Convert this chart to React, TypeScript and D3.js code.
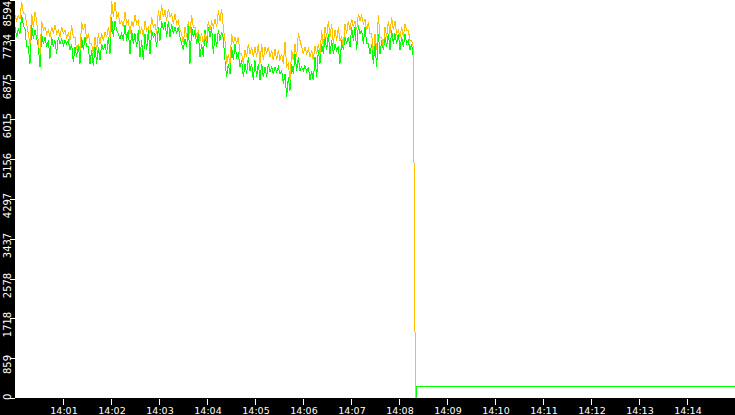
import React, { useEffect, useRef } from 'react';
import * as d3 from 'd3';

// time window shown on the x axis
const START = new Date(2024, 0, 1, 14, 0, 0);
const END = new Date(2024, 0, 1, 14, 15, 0);
// samples are evenly spaced until the drop just after 14:08:20
const SAMPLE_SEC = 500 / 240;

const Y_MAX = 8594;
const Y_TICK_LABELS = ['0', '859', '1718', '2578', '3437', '4297', '5156', '6015', '6875', '7734', '8594'];

const ORANGE_VALUES = [
  8270, 8160, 8270, 8200, 8560, 8310, 8310, 8090, 7880, 7660, 8310, 8020, 8340, 8160, 7660, 7440, 8160, 7950, 8020, 7880,
  7950, 7800, 8020, 7880, 8060, 7880, 7950, 7800, 8020, 7880, 7950, 7800, 7880, 7730, 8060, 7800, 7800, 7520, 7660, 7520,
  8130, 7950, 8090, 7730, 7880, 7660, 7660, 7440, 7800, 7520, 7880, 7660, 7880, 7730, 7910, 7800, 8020, 7800, 8590, 8230,
  8560, 8230, 8310, 8090, 8160, 8020, 8340, 8090, 8160, 7880, 8160, 8020, 8270, 8090, 8160, 7880, 8020, 7800, 8160, 7950,
  8020, 7880, 8230, 8020, 8090, 7880, 8380, 8160, 8490, 8230, 8380, 8160, 8410, 8230, 8310, 8090, 8310, 8090, 8160, 7950,
  7880, 7660, 8020, 7800, 8160, 7880, 8270, 8020, 8020, 7800, 7950, 7730, 7880, 7660, 7880, 7730, 8160, 7950, 8130, 8020,
  8200, 8020, 8380, 8160, 8410, 8020, 7730, 7230, 7440, 7230, 7880, 7660, 7800, 7660, 7800, 7440, 7440, 7230, 7520, 7370,
  7660, 7440, 7590, 7370, 7590, 7370, 7660, 7230, 7660, 7300, 7590, 7440, 7590, 7370, 7520, 7300, 7550, 7300, 7520, 7300,
  7440, 7230, 7700, 7160, 7230, 6870, 7520, 7300, 7660, 7370, 7880, 7730, 7590, 7440, 7590, 7440, 7550, 7370, 7520, 7300,
  7620, 7440, 7660, 7440, 7950, 7590, 8020, 7800, 8160, 7800, 8090, 7660, 7950, 7730, 8020, 7730, 7800, 7590, 8090, 7880,
  8160, 7950, 8200, 8020, 8160, 7950, 8310, 8160, 8270, 8090, 8200, 7950, 8130, 7880, 7880, 7440, 7880, 7520, 8270, 7800,
  7800, 7590, 8020, 7800, 8160, 7880, 8230, 7950, 8160, 7880, 7950, 7800, 8020, 7800, 8090, 7950, 7950, 7730, 7730, 7590,
];

const GREEN_VALUES = [
  8020, 7800, 7980, 7880, 8270, 8060, 7980, 7590, 7590, 7230, 8060, 7770, 7950, 7770, 7590, 7160, 7880, 7660, 7800, 7590,
  7730, 7340, 7800, 7590, 7730, 7440, 7800, 7660, 7770, 7620, 7730, 7660, 7730, 7520, 7660, 7260, 7590, 7370, 7660, 7230,
  7800, 7520, 7800, 7590, 7590, 7230, 7520, 7190, 7590, 7230, 7590, 7300, 7660, 7520, 7660, 7440, 7800, 7440, 8230, 7800,
  8160, 7950, 7880, 7770, 7880, 7730, 8060, 7730, 7950, 7440, 7950, 7660, 7880, 7590, 7950, 7370, 7730, 7300, 7880, 7520,
  7950, 7440, 7950, 7800, 7880, 7590, 8020, 7730, 8160, 7950, 8130, 7800, 8160, 7800, 8090, 7880, 8020, 7880, 8020, 7800,
  7660, 7520, 7770, 7590, 8090, 7230, 8020, 7800, 7950, 7660, 7880, 7370, 7660, 7370, 7950, 7590, 8020, 7800, 8020, 7440,
  7880, 7590, 7950, 7730, 7910, 7770, 7300, 6940, 7230, 7010, 7590, 7300, 7660, 7370, 7440, 7160, 7300, 6940, 7230, 7010,
  7370, 7080, 7230, 6870, 7300, 6940, 7230, 6870, 7230, 6940, 7160, 6940, 7230, 7050, 7160, 7010, 7160, 7050, 7160, 7010,
  7080, 6800, 7010, 6510, 6940, 6650, 7230, 7010, 7440, 7080, 7370, 7080, 7160, 7080, 7190, 7050, 7160, 6870, 7080, 6870,
  7370, 6940, 7520, 7230, 7660, 7440, 7800, 7520, 7880, 7440, 7730, 7440, 7660, 7520, 7590, 7230, 7730, 7520, 7800, 7660,
  7800, 7590, 8020, 7730, 8020, 7520, 8060, 7880, 7950, 7660, 8020, 7660, 7660, 7440, 7660, 7230, 7660, 7160, 7880, 7440,
  7730, 7520, 7800, 7590, 7880, 7520, 7950, 7660, 7880, 7660, 7880, 7520, 7800, 7590, 7880, 7660, 7730, 7520, 7660, 7370,
];

// around and after the drop (seconds after 14:00); NaN = gap in the line
const ORANGE_TAIL_SEC = [500.5];
const ORANGE_TAIL = [0];
const GREEN_TAIL_SEC = [499, 499.3, 499.3, 500, 502, 502, 900];
const GREEN_TAIL = [NaN, 3850, 3680, NaN, 0, 260, 260];

type Pt = { t: Date; v: number };

const toSeries = (vals: number[], tailSec: number[], tail: number[]): Pt[] => [
  ...vals.map((v, i) => ({ t: new Date(+START + i * SAMPLE_SEC * 1000), v })),
  ...tail.map((v, i) => ({ t: new Date(+START + tailSec[i] * 1000), v })),
];

const App: React.FC = () => {
  const chartRef = useRef<SVGSVGElement>(null);

  useEffect(() => {
    const svg = d3.select(chartRef.current);
    svg.selectAll('*').remove();

    const width = +svg.attr('width');
    const height = +svg.attr('height');
    const left = 15;
    const bottom = 398;

    const x = d3.scaleTime().domain([START, END]).range([left, width]);
    const y = d3.scaleLinear().domain([0, Y_MAX]).range([bottom + 0.5, 0.5]);

    svg.append('rect').attr('width', width).attr('height', height).attr('fill', '#fff');

    svg.append('clipPath').attr('id', 'plot-clip')
      .append('rect')
      .attr('x', left).attr('y', 0)
      .attr('width', width - left).attr('height', bottom + 0.5);

    const line = d3.line<Pt>()
      .defined(d => !Number.isNaN(d.v))
      .x(d => x(d.t))
      .y(d => y(d.v));

    const g = svg.append('g').attr('clip-path', 'url(#plot-clip)');

    g.append('path')
      .datum(toSeries(GREEN_VALUES, GREEN_TAIL_SEC, GREEN_TAIL))
      .attr('fill', 'none')
      .attr('stroke', '#00ff00')
      .attr('stroke-width', 1)
      .attr('shape-rendering', 'crispEdges')
      .attr('d', line);

    g.append('path')
      .datum(toSeries(ORANGE_VALUES, ORANGE_TAIL_SEC, ORANGE_TAIL))
      .attr('fill', 'none')
      .attr('stroke', '#ffc000')
      .attr('stroke-width', 1)
      .attr('shape-rendering', 'crispEdges')
      .attr('d', line);

    // black axis bands
    svg.append('rect').attr('x', 0).attr('y', 0).attr('width', left).attr('height', height).attr('fill', '#000');
    svg.append('rect').attr('x', 0).attr('y', bottom).attr('width', width).attr('height', height - bottom).attr('fill', '#000');

    // y axis
    const yAxis = svg.append('g');
    Y_TICK_LABELS.forEach((label, k) => {
      const ty = Math.floor(y((Y_MAX * k) / 10)) + 0.5;
      yAxis.append('line')
        .attr('x1', 10).attr('x2', left)
        .attr('y1', ty).attr('y2', ty)
        .attr('stroke', '#fff')
        .attr('shape-rendering', 'crispEdges');
      const txt = yAxis.append('text')
        .attr('fill', '#fff')
        .attr('font-family', 'DejaVu Sans')
        .attr('font-size', 10)
        .attr('text-anchor', 'middle')
        .text(label);
      const half = ((txt.node() as SVGTextElement).getComputedTextLength() || 6 * label.length) / 2;
      const cy = Math.max(half + 1, Math.min(ty + 6, 400 - half));
      txt.attr('transform', `translate(10.5,${cy}) rotate(-90)`);
    });

    // x axis
    const xAxis = svg.append('g');
    x.ticks(d3.timeMinute.every(1) as d3.TimeInterval)
      .filter(t => +t > +START && +t < +END)
      .forEach(t => {
        const tx = Math.round(x(t)) + 0.5;
        xAxis.append('line')
          .attr('x1', tx).attr('x2', tx)
          .attr('y1', bottom + 1).attr('y2', bottom + 7)
          .attr('stroke', '#fff')
          .attr('shape-rendering', 'crispEdges');
        xAxis.append('text')
          .attr('x', tx + 0.5)
          .attr('y', 413.5)
          .attr('fill', '#fff')
          .attr('font-family', 'DejaVu Sans')
          .attr('font-size', 9.5)
          .attr('text-anchor', 'middle')
          .text(d3.timeFormat('%H:%M')(t));
      });
  }, []);

  return (
    <svg
      ref={chartRef}
      width="735"
      height="415"
      style={{ position: 'fixed', left: 0, top: 0, display: 'block' }}
    ></svg>
  );
};

export default App;
